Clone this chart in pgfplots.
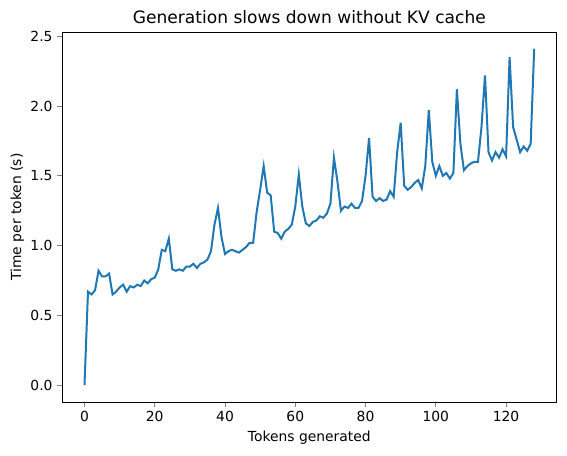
\documentclass[border=0pt]{standalone}
\usepackage{pgfplots}
\pgfplotsset{compat=1.18}
\usepackage{fontspec}
\setmainfont{DejaVu Sans}
\definecolor{mplblue}{HTML}{1F77B4}
\begin{document}
\begin{tikzpicture}
\path[use as bounding box] (-62*0.75pt,-53*0.75pt) rectangle (505*0.75pt,402*0.75pt);
\begin{axis}[
    at={(0,0)}, anchor=south west,
    scale only axis,
    width=371pt, height=277.5pt,
    xmin=-6.4, xmax=134.4,
    ymin=-0.1205, ymax=2.5305,
    xtick={0,20,40,60,80,100,120},
    ytick={0,0.5,1,1.5,2,2.5},
    yticklabel style={/pgf/number format/fixed, /pgf/number format/fixed zerofill, /pgf/number format/precision=1},
    /pgf/number format/assume math mode=true,
    tick align=outside, tick pos=left,
    major tick length=3.6pt,
    major tick style={line width=0.6pt},
    ticklabel style={font=\fontsize{10.4}{12}\selectfont},
    label style={font=\fontsize{10.4}{12}\selectfont},
    xlabel={Tokens generated},
    ylabel={Time per token (s)},
    ylabel style={yshift=-2pt},
    title={Generation slows down without KV cache},
    title style={font=\fontsize{12.8}{15}\selectfont, yshift=-3pt},
    axis line style={line width=0.6pt},
]
\addplot[mplblue, line width=1.5pt] coordinates {
(0,0.00) (1,0.67) (2,0.65) (3,0.68) (4,0.82) (5,0.78) (6,0.78) (7,0.80)
(8,0.65) (9,0.67) (10,0.70) (11,0.72) (12,0.67) (13,0.71) (14,0.70) (15,0.72)
(16,0.71) (17,0.75) (18,0.73) (19,0.76) (20,0.77) (21,0.83) (22,0.97) (23,0.96)
(24,1.05) (25,0.83) (26,0.82) (27,0.83) (28,0.82) (29,0.85) (30,0.85) (31,0.87)
(32,0.84) (33,0.87) (34,0.88) (35,0.90) (36,0.96) (37,1.15) (38,1.27) (39,1.06)
(40,0.94) (41,0.96) (42,0.97) (43,0.96) (44,0.95) (45,0.97) (46,0.99) (47,1.02)
(48,1.02) (49,1.24) (50,1.40) (51,1.57) (52,1.38) (53,1.36) (54,1.10) (55,1.09)
(56,1.05) (57,1.10) (58,1.12) (59,1.15) (60,1.28) (61,1.51) (62,1.28) (63,1.16)
(64,1.14) (65,1.17) (66,1.18) (67,1.21) (68,1.20) (69,1.23) (70,1.30) (71,1.63)
(72,1.46) (73,1.25) (74,1.28) (75,1.27) (76,1.30) (77,1.27) (78,1.27) (79,1.32)
(80,1.50) (81,1.77) (82,1.35) (83,1.32) (84,1.34) (85,1.32) (86,1.33) (87,1.39)
(88,1.35) (89,1.67) (90,1.88) (91,1.43) (92,1.40) (93,1.42) (94,1.45) (95,1.47)
(96,1.41) (97,1.57) (98,1.97) (99,1.60) (100,1.50) (101,1.57) (102,1.50) (103,1.52)
(104,1.48) (105,1.52) (106,2.12) (107,1.73) (108,1.54) (109,1.57) (110,1.59) (111,1.60)
(112,1.60) (113,1.85) (114,2.22) (115,1.67) (116,1.61) (117,1.67) (118,1.63) (119,1.69)
(120,1.64) (121,2.35) (122,1.85) (123,1.76) (124,1.67) (125,1.71) (126,1.68) (127,1.73)
(128,2.41)
};
\end{axis}
\end{tikzpicture}
\end{document}
